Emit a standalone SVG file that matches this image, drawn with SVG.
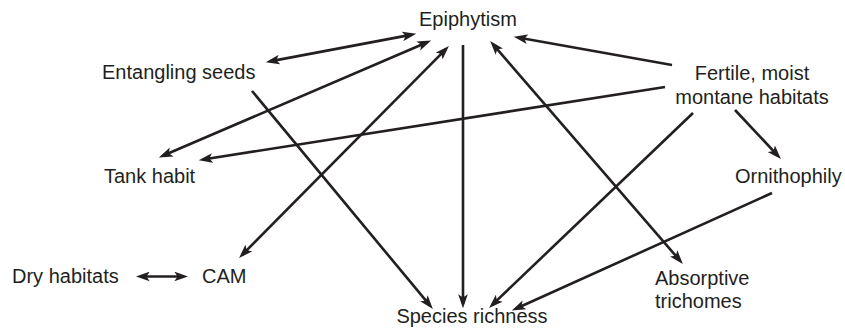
<svg xmlns="http://www.w3.org/2000/svg" width="845" height="334" viewBox="0 0 845 334">
<defs>
<marker id="ah" markerUnits="userSpaceOnUse" markerWidth="14" markerHeight="10" viewBox="0 0 13 9" refX="9" refY="4.5" orient="auto-start-reverse">
<path d="M0,0 L13,4.5 L0,9 L3,4.5 z" fill="#231f20"/>
</marker>
</defs>
<style>
text{font-family:"Liberation Sans",Arial,sans-serif;font-size:20px;fill:#231f20}
.c{text-anchor:middle}
.e line{stroke:#231f20;stroke-width:2.6;fill:none}
.one{marker-end:url(#ah)}
.two{marker-start:url(#ah);marker-end:url(#ah)}
</style>
<rect width="845" height="334" fill="#fff"/>
<g class="e" id="connectors">
<line class="two" x1="270" y1="61.4" x2="412" y2="34.6"/>
<line class="two" x1="427.2" y1="42.2" x2="162.8" y2="155.8"/>
<line class="two" x1="445.9" y1="49.1" x2="242.1" y2="254.9"/>
<line class="one" x1="463" y1="45" x2="463" y2="304"/>
<line class="two" x1="493" y1="44.3" x2="680" y2="260.7"/>
<line class="one" x1="672" y1="65" x2="518" y2="37.5"/>
<line class="one" x1="665" y1="87" x2="203" y2="159.5"/>
<line class="one" x1="735" y1="110" x2="778" y2="155.8"/>
<line class="one" x1="693" y1="113" x2="492.2" y2="304.9"/>
<line class="one" x1="772" y1="193" x2="515.7" y2="308.8"/>
<line class="one" x1="252" y1="91" x2="430.1" y2="305.7"/>
<line class="two" x1="140" y1="276.5" x2="184" y2="276.5"/>
</g>
<g id="epiphytism"><text x="419" y="26">Epiphytism</text></g>
<g id="entangling-seeds"><text x="102" y="79">Entangling seeds</text></g>
<g id="fertile-moist"><text class="c" x="752" y="80">Fertile, moist</text><text class="c" x="752" y="104">montane habitats</text></g>
<g id="tank-habit"><text x="104" y="183">Tank habit</text></g>
<g id="ornithophily"><text x="735" y="183">Ornithophily</text></g>
<g id="dry-habitats"><text x="12" y="283">Dry habitats</text></g>
<g id="cam"><text x="202" y="283">CAM</text></g>
<g id="absorptive-trichomes"><text x="655" y="285">Absorptive</text><text x="655" y="308">trichomes</text></g>
<g id="species-richness"><text class="c" x="472" y="323">Species richness</text></g>
</svg>
